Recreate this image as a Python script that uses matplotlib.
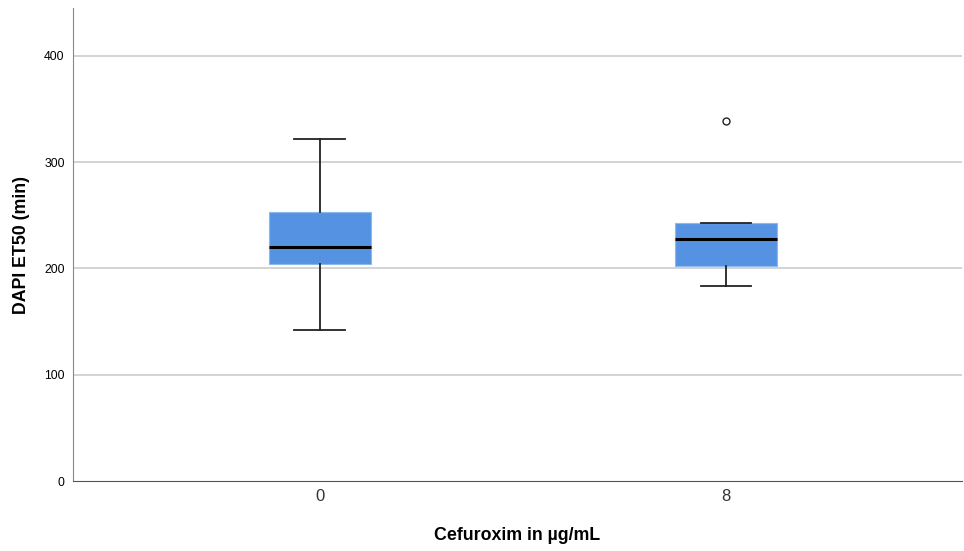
import matplotlib
matplotlib.use("Agg")
import matplotlib.pyplot as plt

groups = ["0", "8"]
whislo = [142, 183]
q1 = [204, 202]
med = [220, 228]
q3 = [253, 243]
whishi = [322, 243]
fliers = [[], [339]]

plt.rcParams["font.family"] = ["Liberation Sans", "DejaVu Sans"]

fig = plt.figure(figsize=(9.64, 5.51), dpi=100)
ax = fig.add_axes([0.0757, 0.127, 0.922, 0.8585])

stats = [dict(label=g, whislo=wl, q1=a, med=m, q3=b, whishi=wh, fliers=f)
         for g, wl, a, m, b, wh, f in zip(groups, whislo, q1, med, q3, whishi, fliers)]
ax.bxp(stats, positions=[1, 2], widths=0.25, patch_artist=True, showfliers=True,
       boxprops=dict(facecolor="#5593e2", edgecolor="#8fb8ee", linewidth=0.8),
       medianprops=dict(color="black", linewidth=2.2),
       whiskerprops=dict(color="#222222", linewidth=1.3),
       capprops=dict(color="#222222", linewidth=1.3),
       capwidths=0.125,
       flierprops=dict(marker="o", markersize=5, markerfacecolor="white",
                       markeredgecolor="#222222", markeredgewidth=1.0))

ax.set_xlim(0.392, 2.581)
ax.set_ylim(0, 445)
ax.set_yticks([0, 100, 200, 300, 400])
ax.set_yticklabels(["0", "100", "200", "300", "400"], fontsize=8.8)
ax.set_xticks([1, 2])
ax.set_xticklabels(groups, fontsize=12, color="#333333")
ax.tick_params(axis="both", length=0, pad=6)
for y in [100, 200, 300, 400]:
    ax.axhline(y, color="#c8c8c8", linewidth=1.1, zorder=0)
ax.spines["top"].set_visible(False)
ax.spines["right"].set_visible(False)
ax.spines["left"].set_color("#888888")
ax.spines["bottom"].set_color("#555555")
ax.set_ylabel("DAPI ET50 (min)", fontsize=12.8, fontweight="bold", labelpad=10)
ax.set_xlabel("Cefuroxim in µg/mL", fontsize=12.8, fontweight="bold", labelpad=16)

fig.savefig("out.png", dpi=100)
